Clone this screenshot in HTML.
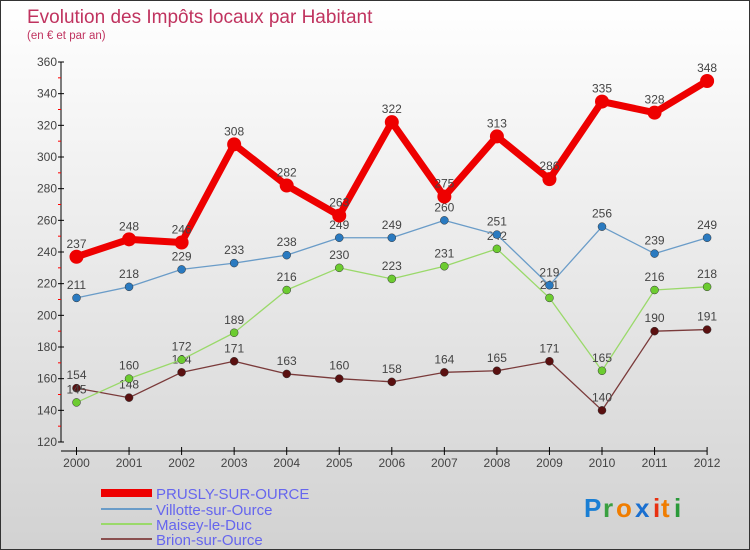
<!DOCTYPE html>
<html><head><meta charset="utf-8"><style>
body{margin:0;}
#wrap{width:748px;height:548px;border:1px solid #333;background:linear-gradient(#ffffff,#d2d2d2);position:relative;overflow:hidden;font-family:"Liberation Sans",sans-serif;}
svg{position:absolute;left:0;top:0;}
</style></head><body>
<div id="wrap">
<svg id="chart" width="750" height="550">
<text x="26" y="22" font-size="19" fill="#c0335f">Evolution des Impôts locaux par Habitant</text>
<text x="26" y="38" font-size="11.5" fill="#c0335f">(en € et par an)</text>
<g id="axes"></g><g id="series"></g><g id="legend"></g>
<g font-size="26" font-weight="bold">
<text x="583" y="516" fill="#1a7fd4">P</text><text x="602" y="516" fill="#3aa040">r</text><text x="615" y="516" fill="#f07d00">o</text><text x="634" y="516" fill="#1a6fd0">x</text><text x="652" y="516" fill="#e83010">i</text><text x="660" y="516" fill="#f07d00">t</text><text x="673" y="516" fill="#2a9a3a">i</text>
</g>
</svg>
</div>
<script>
const years=[2000,2001,2002,2003,2004,2005,2006,2007,2008,2009,2010,2011,2012];
const prusly=[237,248,246,308,282,263,322,275,313,286,335,328,348];
const villotte=[211,218,229,233,238,249,249,260,251,219,256,239,249];
const maisey=[145,160,172,189,216,230,223,231,242,211,165,216,218];
const brion=[154,148,164,171,163,160,158,164,165,171,140,190,191];
const yTicks=[120,140,160,180,200,220,240,260,280,300,320,340,360];
const seriesNames=["PRUSLY-SUR-OURCE","Villotte-sur-Ource","Maisey-le-Duc","Brion-sur-Ource"];
const NS="http://www.w3.org/2000/svg";
const xS=i=>75.5+i*52.55;
const yS=v=>441-(v-120)*(380/240);
function mk(tag,attrs,parent,txt){const e=document.createElementNS(NS,tag);for(const k in attrs)e.setAttribute(k,attrs[k]);if(txt!==undefined)e.textContent=txt;parent.appendChild(e);return e;}
const ax=document.getElementById('axes');
let e=mk('line',{x1:60,y1:yS(360),x2:60,y2:yS(120),stroke:'#000','stroke-width':1},ax);


e=mk('line',{x1:60,y1:450,x2:706,y2:450,stroke:'#000','stroke-width':1},ax);


yTicks.forEach((t,i)=>{
 mk('line',{x1:57,y1:yS(t),x2:63,y2:yS(t),stroke:'#000'},ax);
 if(i<yTicks.length-1)mk('line',{x1:57,y1:yS(t+10),x2:60,y2:yS(t+10),stroke:'#f00'},ax);
 const l=mk('text',{x:56,y:yS(t)+4,'font-size':12,fill:'#444','text-anchor':'end'},ax,t);
 
 
});
years.forEach((y,i)=>{
 mk('line',{x1:xS(i),y1:446,x2:xS(i),y2:454,stroke:'#000'},ax);
 const l=mk('text',{x:xS(i),y:466,'font-size':12,fill:'#444','text-anchor':'middle'},ax,y);
 
 
});
const sg=document.getElementById('series');
const defs=[[brion,'#7a3a3a','#5a1010',1.3,4,'brion'],[maisey,'#9ad96a','#6ccc30',1.3,4,'maisey'],[villotte,'#6a9cc8','#2a7ac0',1.3,4,'villotte'],[prusly,'#ee0000','#ee0000',7,7,'prusly']];
defs.forEach(([d,lc,pc,w,r,n])=>{
 const g=mk('g',{},sg);
 
 
 const p=mk('polyline',{points:d.map((v,i)=>xS(i)+','+yS(v)).join(' '),fill:'none',stroke:lc,'stroke-width':w,'stroke-linejoin':'round'},g);
 
 
 d.forEach((v,i)=>{
  const c=mk('circle',{cx:xS(i),cy:yS(v),r:r,fill:pc,stroke:n==='prusly'?'none':'#333','stroke-width':0.5},g);
  
  
  const t=mk('text',{x:xS(i),y:yS(v)-9,'font-size':12,fill:'#444','text-anchor':'middle'},g,v);
  
  
 });
});
const lg=document.getElementById('legend');
const lstyle=[['#ee0000',8,492],['#6a9cc8',2,508],['#9ad96a',2,523],['#8a5050',2,538]];
seriesNames.forEach((nm,i)=>{
 const [c,w,y]=lstyle[i];
 const g=mk('g',{},lg);
 
 
 mk('line',{x1:100,y1:y,x2:151,y2:y,stroke:c,'stroke-width':w},g);
 mk('text',{x:155,y:y+6,'font-size':15,fill:'#6666ee'},g,nm);
});
</script>
</body></html>
